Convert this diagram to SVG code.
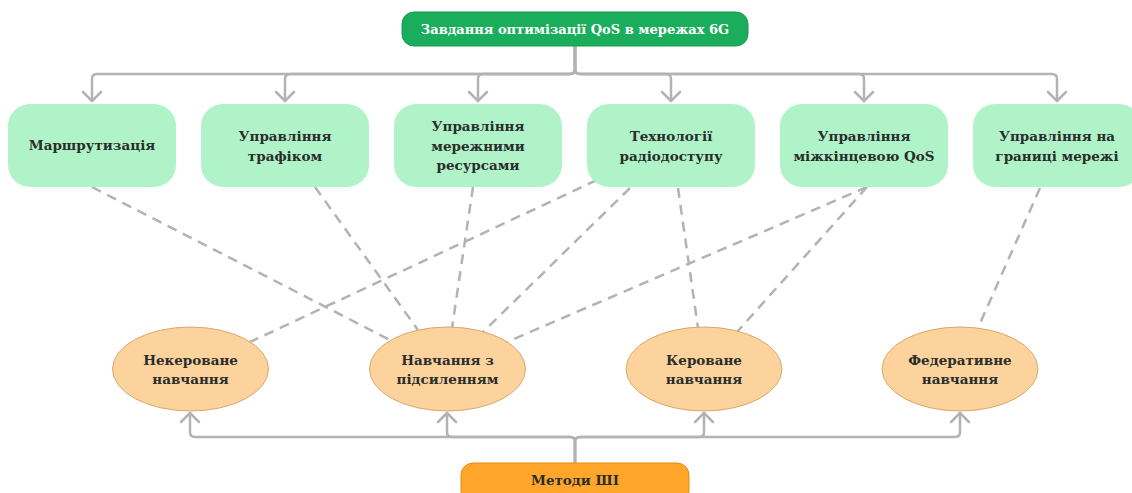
<svg xmlns="http://www.w3.org/2000/svg" width="1132" height="493" viewBox="0 0 1132 493">
<style>
text{font-family:"DejaVu Serif","Liberation Serif",serif;font-weight:bold;font-size:13.5px;text-anchor:middle;fill:#2a2d2b}
.task rect{fill:#b0f3c9}
.ml ellipse{fill:#fcd39d;stroke:#d9a86c;stroke-width:1}
.conn{fill:none;stroke:#b3b3b3;stroke-width:2.5;stroke-linecap:round;stroke-linejoin:round}
.dash{fill:none;stroke:#b3b3b3;stroke-width:2.5;stroke-dasharray:10 7}
</style>
<g id="connectors">
  <g class="conn">
    <path d="M575 46 V69 Q575 74 570 74 H97 Q92 74 92 79 V101"/>
    <path d="M575 46 V69 Q575 74 570 74 H290 Q285 74 285 79 V101"/>
    <path d="M575 46 V69 Q575 74 570 74 H483 Q478 74 478 79 V101"/>
    <path d="M575 46 V69 Q575 74 580 74 H666 Q671 74 671 79 V101"/>
    <path d="M575 46 V69 Q575 74 580 74 H859 Q864 74 864 79 V101"/>
    <path d="M575 46 V69 Q575 74 580 74 H1052 Q1057 74 1057 79 V101"/>
    <path d="M83 92 L92 101 L101 92"/>
    <path d="M276 92 L285 101 L294 92"/>
    <path d="M469 92 L478 101 L487 92"/>
    <path d="M662 92 L671 101 L680 92"/>
    <path d="M855 92 L864 101 L873 92"/>
    <path d="M1048 92 L1057 101 L1066 92"/>
    <path d="M575 463 V442 Q575 437 570 437 H195 Q190 437 190 432 V413"/>
    <path d="M575 463 V442 Q575 437 570 437 H452 Q447 437 447 432 V413"/>
    <path d="M575 463 V442 Q575 437 580 437 H699 Q704 437 704 432 V413"/>
    <path d="M575 463 V442 Q575 437 580 437 H955 Q960 437 960 432 V413"/>
    <path d="M181 422 L190 413 L199 422"/>
    <path d="M438 422 L447 413 L456 422"/>
    <path d="M695 422 L704 413 L713 422"/>
    <path d="M951 422 L960 413 L969 422"/>
  </g>
  <g class="dash">
    <path d="M92 187 L390 340"/>
    <path d="M315 187 L418 330"/>
    <path d="M473 187 L452 328"/>
    <path d="M597 180 L250 342"/>
    <path d="M630 188 L483 332"/>
    <path d="M678 188 L698 328"/>
    <path d="M867 187 L507 342"/>
    <path d="M867 187 L737 332"/>
    <path d="M1040 188 L978 328"/>
  </g>
</g>
<g id="root">
  <rect x="402" y="12" width="346" height="34" rx="12" fill="#1aad5c" stroke="#169a50" stroke-width="1"/>
  <text x="575" y="34" style="fill:#ffffff;font-size:13px">Завдання оптимізації QoS в мережах 6G</text>
</g>
<g id="t1" class="task"><rect x="8" y="104" width="168" height="83" rx="22"/><text x="92" y="150">Маршрутизація</text></g>
<g id="t2" class="task"><rect x="201" y="104" width="168" height="83" rx="22"/><text x="285" y="140.5">Управління</text><text x="285" y="160.5">трафіком</text></g>
<g id="t3" class="task"><rect x="394" y="104" width="168" height="83" rx="22"/><text x="478" y="131">Управління</text><text x="478" y="151">мережними</text><text x="478" y="170">ресурсами</text></g>
<g id="t4" class="task"><rect x="587" y="104" width="168" height="83" rx="22"/><text x="671" y="140.5">Технології</text><text x="671" y="160.5">радіодоступу</text></g>
<g id="t5" class="task"><rect x="780" y="104" width="168" height="83" rx="22"/><text x="864" y="140.5">Управління</text><text x="864" y="160.5">міжкінцевою QoS</text></g>
<g id="t6" class="task"><rect x="973" y="104" width="168" height="83" rx="22"/><text x="1057" y="140.5">Управління на</text><text x="1057" y="160.5">границі мережі</text></g>
<g id="m1" class="ml"><ellipse cx="190.5" cy="369" rx="78" ry="42"/><text x="190.5" y="364.5">Некероване</text><text x="190.5" y="383.5">навчання</text></g>
<g id="m2" class="ml"><ellipse cx="447.5" cy="369" rx="78" ry="42"/><text x="447.5" y="364.5">Навчання з</text><text x="447.5" y="383.5">підсиленням</text></g>
<g id="m3" class="ml"><ellipse cx="704" cy="369" rx="78" ry="42"/><text x="704" y="364.5">Кероване</text><text x="704" y="383.5">навчання</text></g>
<g id="m4" class="ml"><ellipse cx="960" cy="369" rx="78" ry="42"/><text x="960" y="364.5">Федеративне</text><text x="960" y="383.5">навчання</text></g>
<g id="ai">
  <rect x="461" y="463" width="228" height="40" rx="12" fill="#ffa62b" stroke="#e48c14" stroke-width="1"/>
  <text x="575" y="485">Методи ШІ</text>
</g>
</svg>
